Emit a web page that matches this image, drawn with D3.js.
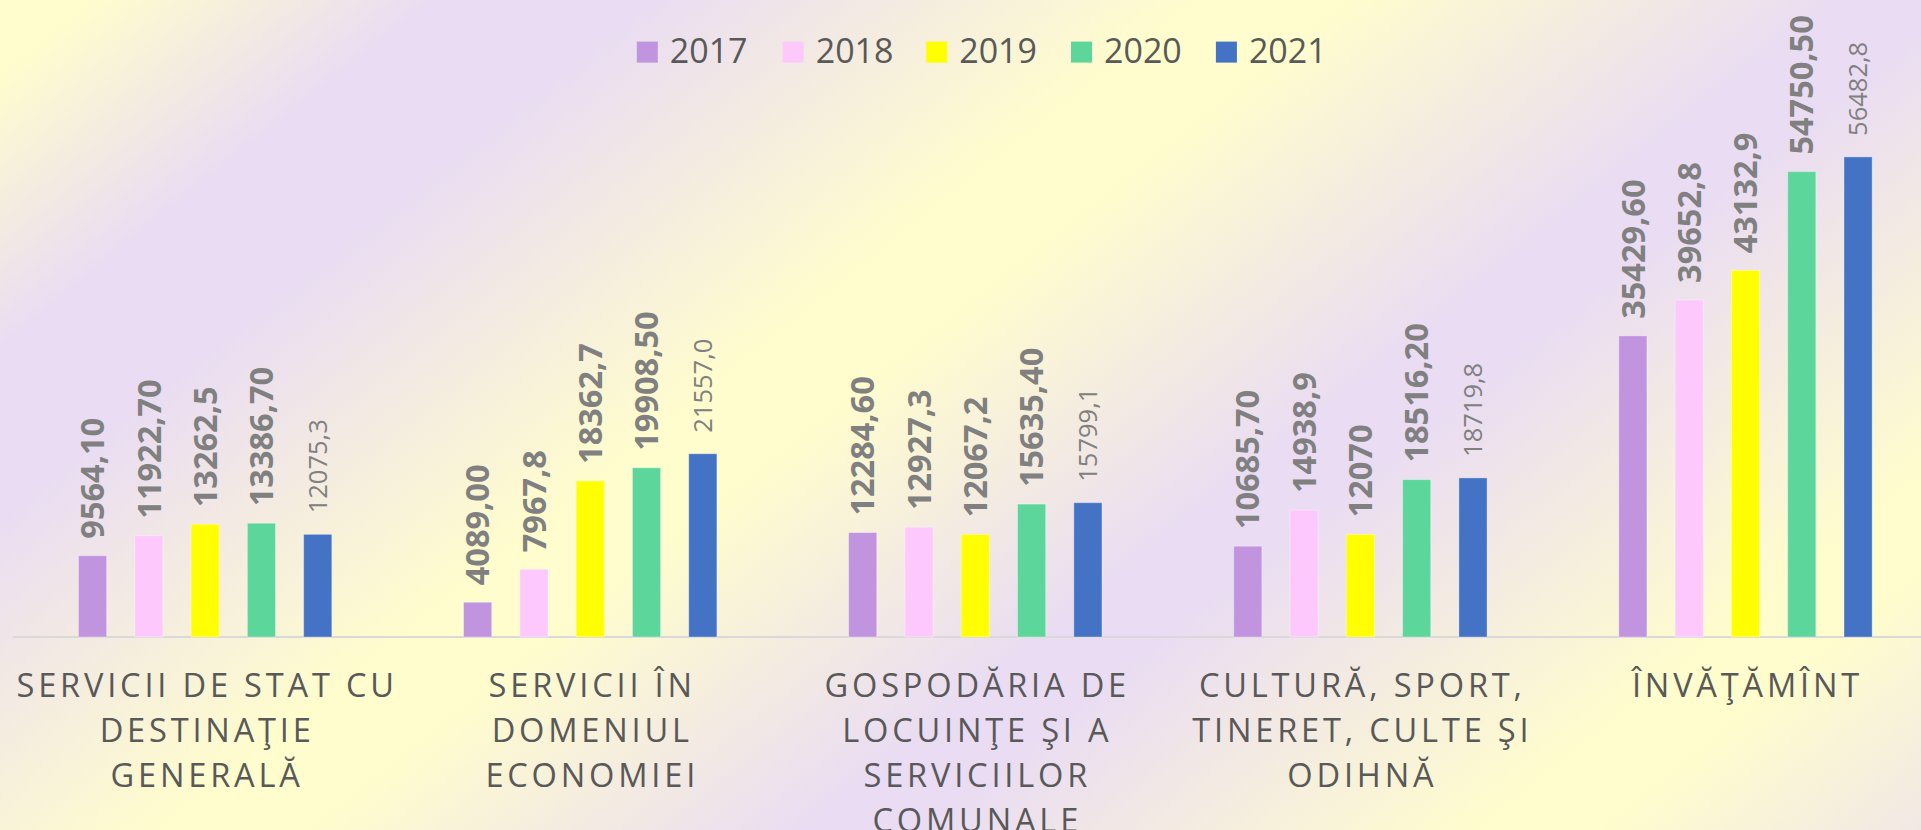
<!DOCTYPE html>
<html>
<head>
<meta charset="utf-8">
<script src="https://cdnjs.cloudflare.com/ajax/libs/d3/7.8.5/d3.min.js"></script>
<style>
  html, body { margin: 0; padding: 0; overflow: hidden; }
  body { width: 1921px; height: 830px; }
  text { font-family: "Open Sans", sans-serif; }
</style>
</head>
<body>
<div class="canva"></div>
<script>
// date
var categories = [
  "SERVICII DE STAT CU\nDESTINAŢIE\nGENERALĂ",
  "SERVICII ÎN\nDOMENIUL\nECONOMIEI",
  "GOSPODĂRIA DE\nLOCUINŢE ŞI A\nSERVICIILOR\nCOMUNALE",
  "CULTURĂ, SPORT,\nTINERET, CULTE ŞI\nODIHNĂ",
  "ÎNVĂŢĂMÎNT"
];
var years = ["2017", "2018", "2019", "2020", "2021"];

var v2017 = [9564.10, 4089.00, 12284.60, 10685.70, 35429.60];
var v2018 = [11922.70, 7967.8, 12927.3, 14938.9, 39652.8];
var v2019 = [13262.5, 18362.7, 12067.2, 12070, 43132.9];
var v2020 = [13386.70, 19908.50, 15635.40, 18516.20, 54750.50];
var v2021 = [12075.3, 21557.0, 15799.1, 18719.8, 56482.8];

var l2017 = ["9564,10", "4089,00", "12284,60", "10685,70", "35429,60"];
var l2018 = ["11922,70", "7967,8", "12927,3", "14938,9", "39652,8"];
var l2019 = ["13262,5", "18362,7", "12067,2", "12070", "43132,9"];
var l2020 = ["13386,70", "19908,50", "15635,40", "18516,20", "54750,50"];
var l2021 = ["12075,3", "21557,0", "15799,1", "18719,8", "56482,8"];

var colors = ["#c094de", "#fdc9fd", "#ffff00", "#5cd69a", "#4472c4"];

var values = [v2017, v2018, v2019, v2020, v2021];
var labels = [l2017, l2018, l2019, l2020, l2021];

var W = 1921, H = 830;
var baseY = 637;

var svg = d3.select(".canva")
  .append("svg")
    .attr("width", W)
    .attr("height", H);

// fundal cu gradient diagonal (benzi galben / lavanda)
var defs = svg.append("defs");
var grad = defs.append("linearGradient")
  .attr("id", "bg")
  .attr("gradientUnits", "userSpaceOnUse")
  .attr("x1", 0).attr("y1", 0)
  .attr("x2", 1154).attr("y2", 1443);
var yel = "#fffdcd", lav = "#e9dcf3";
var stops = [[0, yel], [0.03, yel], [0.149, lav], [0.216, lav], [0.406, yel], [0.453, yel],
             [0.625, lav], [0.659, lav], [0.852, yel], [0.889, yel], [1, "#f1e8e5"]];
stops.forEach(function(s) {
  grad.append("stop").attr("offset", s[0]).attr("stop-color", s[1]);
});
svg.append("rect").attr("width", W).attr("height", H).attr("fill", "url(#bg)");

// scale
var x0 = d3.scaleBand()
  .domain(d3.range(categories.length))
  .range([12.6, 1938])
  .padding(0);

var x1 = d3.scaleBand()
  .domain(years)
  .range([-140.75, 140.75])
  .paddingInner(0.5)
  .paddingOuter(0.25);

var y = d3.scaleLinear()
  .domain([0, 60000])
  .range([baseY, 127]);

// axa orizontala
svg.append("line")
  .attr("x1", 12.6).attr("x2", W)
  .attr("y1", baseY).attr("y2", baseY)
  .attr("stroke", "#d9d9d9")
  .attr("stroke-width", 1.8);

// bare + etichete
years.forEach(function(yr, s) {
  var g = svg.append("g");
  var rows = values[s].map(function(v, i) { return {i: i, v: v, t: labels[s][i]}; });

  g.selectAll("rect")
    .data(rows)
    .enter()
    .append("rect")
      .attr("x", function(d) { return x0(d.i) + x0.bandwidth() / 2 + x1(yr); })
      .attr("width", x1.bandwidth())
      .attr("y", function(d) { return y(d.v); })
      .attr("height", function(d) { return baseY - y(d.v); })
      .attr("fill", colors[s])
      .attr("stroke", "rgba(255,255,255,0.35)")
      .attr("stroke-width", 1);

  var bold = s < 4;
  g.selectAll("text")
    .data(rows)
    .enter()
    .append("text")
      .attr("transform", function(d) {
        var cx = x0(d.i) + x0.bandwidth() / 2 + x1(yr) + x1.bandwidth() / 2;
        return "translate(" + cx + "," + (y(d.v) - (bold ? 17 : 21)) + ")rotate(-90)";
      })
      .attr("dy", "0.36em")
      .attr("fill", "#808080")
      .style("font-size", bold ? "32.5px" : "25.5px")
      .style("font-weight", bold ? 700 : 400)
      .text(function(d) { return d.t; });
});

// etichete categorii
var cat = svg.append("g").selectAll("text")
  .data(categories)
  .enter()
  .append("text")
    .attr("x", function(d, i) { return x0(i) + x0.bandwidth() / 2 + 2; })
    .attr("y", 696.7)
    .attr("text-anchor", "middle")
    .attr("fill", "#595959")
    .style("font-size", "32.6px")
    .style("letter-spacing", "3.8px");

cat.each(function(d) {
  var el = d3.select(this);
  var x = el.attr("x");
  d.split("\n").forEach(function(line, k) {
    el.append("tspan")
      .attr("x", x)
      .attr("dy", k == 0 ? 0 : 45)
      .text(line);
  });
});

// legenda
var legX = [636.8, 782.7, 926.2, 1071, 1215.9];
var leg = svg.append("g");
years.forEach(function(yr, s) {
  leg.append("rect")
    .attr("x", legX[s]).attr("y", 41.6)
    .attr("width", 21).attr("height", 21)
    .attr("fill", colors[s]);
  leg.append("text")
    .attr("x", legX[s] + 33)
    .attr("y", 62.7)
    .attr("fill", "#595959")
    .style("font-size", "34px")
    .text(yr);
});
</script>
</body>
</html>
